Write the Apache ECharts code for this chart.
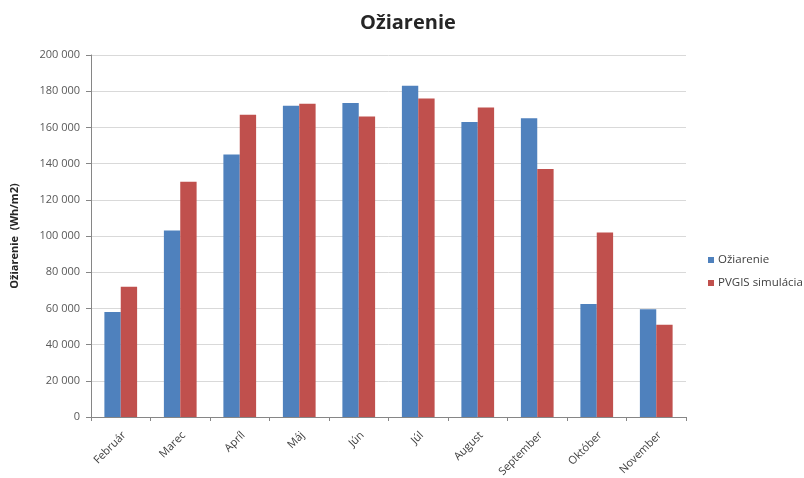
<!DOCTYPE html>
<html>
<head>
<meta charset="utf-8">
<script src="https://cdn.jsdelivr.net/npm/echarts@6/dist/echarts.min.js"></script>
<style>
  html, body { margin: 0; padding: 0; background: #ffffff; }
  #chart { width: 804px; height: 478px; }
</style>
</head>
<body>
<div id="chart"></div>
<script>
// Monthly irradiation (Wh/m2): measured vs. PVGIS simulation
const months = ['Február', 'Marec', 'Apríl', 'Máj', 'Jún', 'Júl', 'August', 'September', 'Október', 'November'];
const ozIarenie = [58000, 103000, 145000, 172000, 173500, 183000, 163000, 165000, 62500, 59500];
const pvgisSimulacia = [72000, 130000, 167000, 173000, 166000, 176000, 171000, 137000, 102000, 51000];
const yTicks = { min: 0, max: 200000, step: 20000 };

const FONT = '"Open Sans", "Liberation Sans", sans-serif';

// thousands separated by a space, e.g. 120 000
function fmt(v) {
  return String(v).replace(/\B(?=(\d{3})+(?!\d))/g, ' ');
}

const chart = echarts.init(document.getElementById('chart'), null, { renderer: 'canvas' });

chart.setOption({
  animation: false,
  backgroundColor: '#ffffff',
  color: ['#4F81BD', '#C0504D'],
  title: {
    text: 'Ožiarenie',
    left: 355,
    top: 8,
    textStyle: { fontFamily: FONT, fontSize: 20, fontWeight: 'bold', color: '#262626' }
  },
  legend: {
    orient: 'vertical',
    left: 703,
    top: 249,
    icon: 'rect',
    itemWidth: 6,
    itemHeight: 6,
    itemGap: 11,
    textStyle: { fontFamily: FONT, fontSize: 11.5, color: '#404040', padding: [0, 0, 0, -1] }
  },
  grid: { left: 91, right: 118, top: 55, bottom: 61, containLabel: false, outerBoundsMode: 'none' },
  xAxis: {
    type: 'category',
    data: months,
    boundaryGap: true,
    axisLine: { lineStyle: { color: '#868686', width: 1 } },
    axisTick: { show: true, length: 4, lineStyle: { color: '#868686' } },
    axisLabel: {
      interval: 0,
      rotate: 45,
      margin: 20,
      padding: [0, -5, 0, 0],
      fontFamily: FONT,
      fontSize: 11,
      color: '#404040'
    }
  },
  yAxis: {
    type: 'value',
    min: yTicks.min,
    max: yTicks.max,
    interval: yTicks.step,
    name: 'Ožiarenie  (Wh/m2)',
    nameLocation: 'middle',
    nameGap: 71,
    nameTextStyle: { fontFamily: FONT, fontSize: 11, fontWeight: 'bold', color: '#262626' },
    axisLine: { show: true, lineStyle: { color: '#868686', width: 1 } },
    axisTick: { show: true, length: 5, lineStyle: { color: '#868686' } },
    axisLabel: {
      margin: 11,
      fontFamily: FONT,
      fontSize: 11,
      color: '#595959',
      formatter: fmt
    },
    splitLine: { lineStyle: { color: '#D9D9D9', width: 1 } }
  },
  series: [
    {
      name: 'Ožiarenie',
      type: 'bar',
      data: ozIarenie,
      barGap: '0%',
      barCategoryGap: '45%'
    },
    {
      name: 'PVGIS simulácia',
      type: 'bar',
      data: pvgisSimulacia,
      barGap: '0%',
      barCategoryGap: '45%'
    }
  ]
});
</script>
</body>
</html>
